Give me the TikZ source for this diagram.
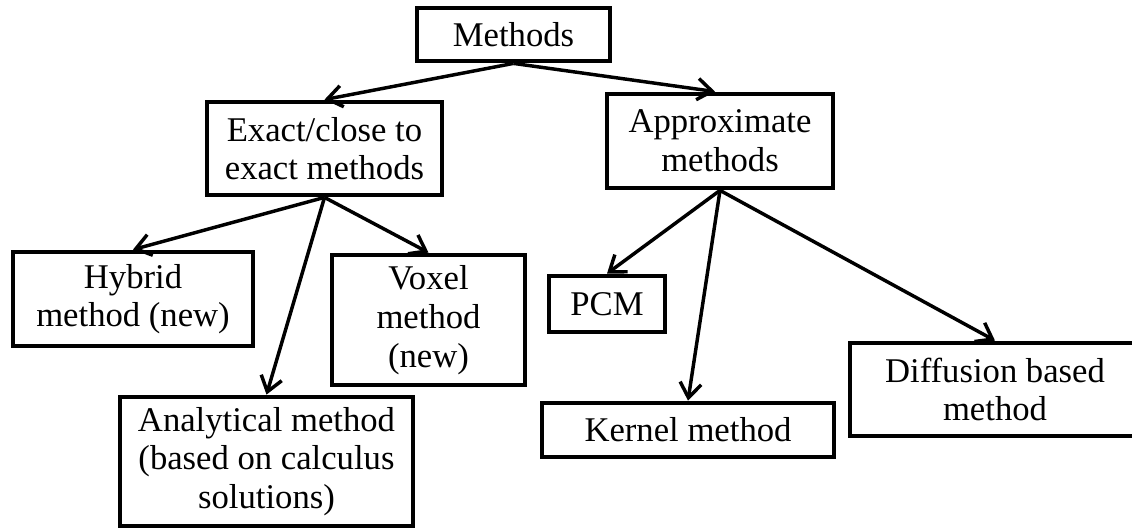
\documentclass[tikz,border=0pt]{standalone}
\usepackage{fontspec}
\setmainfont{Liberation Serif}
\usetikzlibrary{arrows.meta}
\newcommand\boxfont{\fontsize{26}{29}\selectfont}
\begin{document}
\begin{tikzpicture}[x=0.75pt,y=-0.75pt,
  box/.style={draw, line width=3.6pt, inner sep=0pt, align=center, font=\boxfont, fill=white},
  link/.style={line width=2.6pt, -{Straight Barb[length=11pt,width=16pt]}}]
\useasboundingbox (0,0) rectangle (1132,531);
\clip (0,0) rectangle (1132,531);
\node[box, minimum width=193*0.75pt, minimum height=53*0.75pt] (m) at (513.5,34.5) {Methods};
\node[box, minimum width=235*0.75pt, minimum height=93*0.75pt] (ex) at (324.5,148.5) {Exact/close to\\exact methods};
\node[box, minimum width=226*0.75pt, minimum height=94*0.75pt] (ap) at (720,141) {Approximate\\methods};
\node[box, minimum width=240*0.75pt, minimum height=94*0.75pt] (hy) at (133,299) {Hybrid\\method (new)};
\node[box, minimum width=193*0.75pt, minimum height=130*0.75pt] (vo) at (428.5,320) {Voxel\\method\\(new)};
\node[box, minimum width=293*0.75pt, minimum height=129*0.75pt] (an) at (266.5,461.5) {Analytical method\\(based on calculus\\solutions)};
\node[box, minimum width=116*0.75pt, minimum height=56*0.75pt] (pc) at (607,304) {PCM};
\node[box, minimum width=292*0.75pt, minimum height=54*0.75pt] (ke) at (688,430) {Kernel method};
\node[box, minimum width=290*0.75pt, minimum height=93*0.75pt] (di) at (995,389.5) {Diffusion based\\method};
\draw[link] (m.south) -- (ex.north);
\draw[link] (m.south) -- ([xshift=-3.75pt]ap.north);
\draw[link] (ex.south) -- (hy.north);
\draw[link] (ex.south) -- (an.north);
\draw[link] (ex.south) -- (vo.north);
\draw[link] (ap.south) -- (pc.north);
\draw[link] (ap.south) -- (ke.north);
\draw[link] (ap.south) -- (di.north);
\end{tikzpicture}
\end{document}
